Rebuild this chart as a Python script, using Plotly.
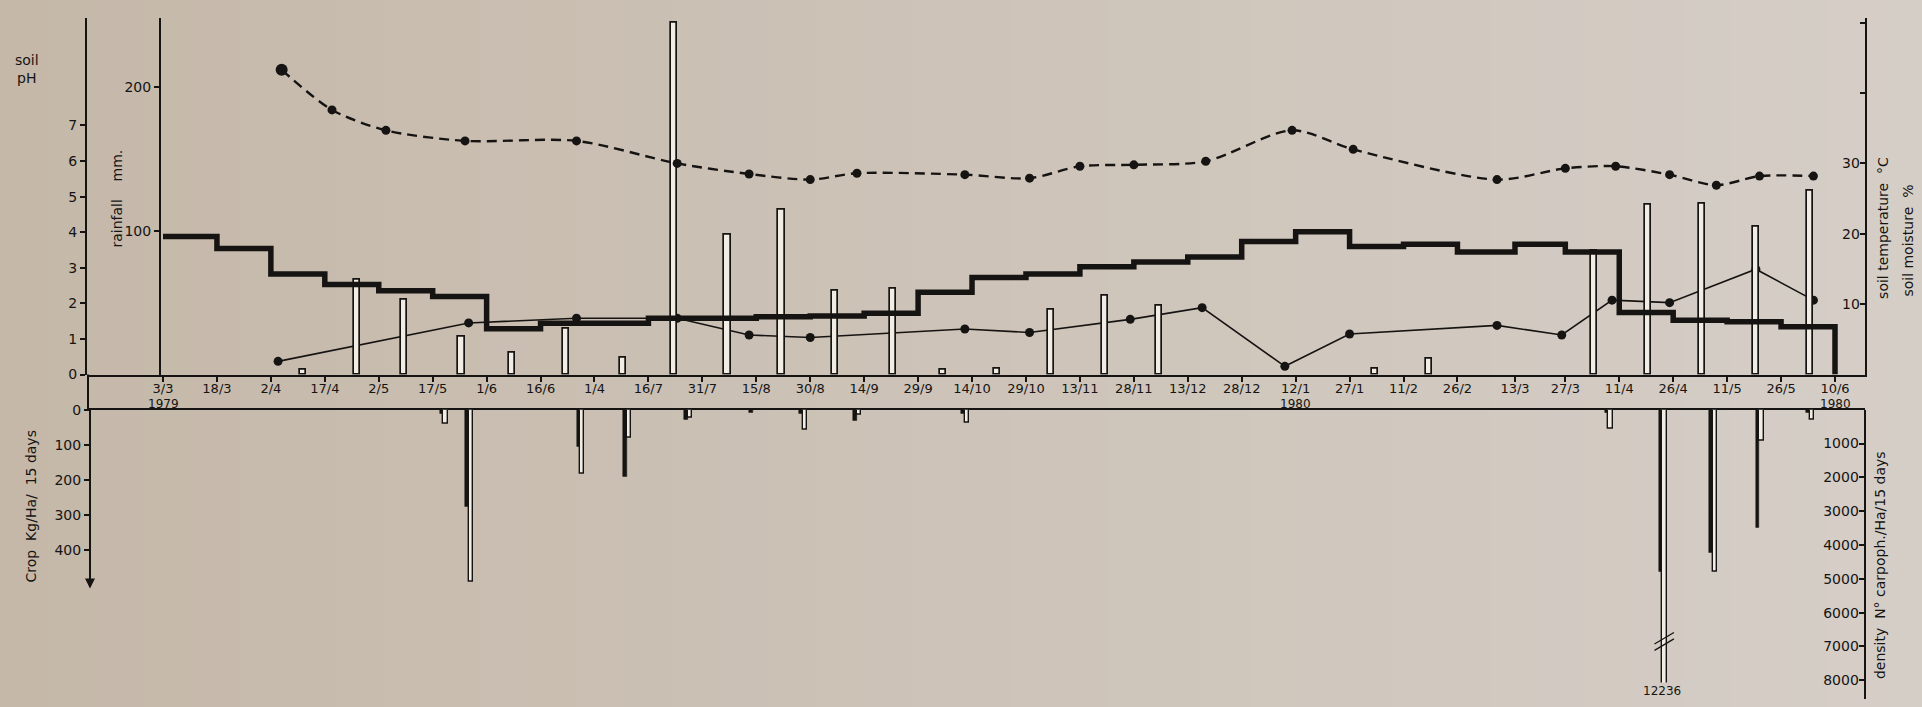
import pandas as pd
import plotly.graph_objects as go

# ---------------------------------------------------------------- data
# 15-day sampling dates on the time axis
tick_dates = ["1979-03-03", "1979-03-18", "1979-04-02", "1979-04-17", "1979-05-02",
              "1979-05-17", "1979-06-01", "1979-06-16", "1979-07-01", "1979-07-16",
              "1979-07-31", "1979-08-15", "1979-08-30", "1979-09-14", "1979-09-29",
              "1979-10-14", "1979-10-29", "1979-11-13", "1979-11-28", "1979-12-13",
              "1979-12-28", "1980-01-12", "1980-01-27", "1980-02-11", "1980-02-26",
              "1980-03-13", "1980-03-27", "1980-04-11", "1980-04-26", "1980-05-11",
              "1980-05-26", "1980-06-10"]
tick_labels = ["3/3", "18/3", "2/4", "17/4", "2/5", "17/5", "1/6", "16/6", "1/4", "16/7",
               "31/7", "15/8", "30/8", "14/9", "29/9", "14/10", "29/10", "13/11", "28/11",
               "13/12", "28/12", "12/1", "27/1", "11/2", "26/2", "13/3", "27/3", "11/4",
               "26/4", "11/5", "26/5", "10/6"]
year_dates = ["1979-03-03", "1980-01-12", "1980-06-10"]
year_labels = ["1979", "1980", "1980"]

# rainfall per 15-day period (mm)
rain_dates = ["1979-04-11", "1979-04-26", "1979-05-09", "1979-05-25", "1979-06-08",
              "1979-06-23", "1979-07-09", "1979-07-23", "1979-08-07", "1979-08-22",
              "1979-09-06", "1979-09-22", "1979-10-06", "1979-10-21", "1979-11-05",
              "1979-11-20", "1979-12-05", "1980-02-03", "1980-02-18", "1980-04-04",
              "1980-04-19", "1980-05-04", "1980-05-19", "1980-06-03"]
rain_mm = [3, 66, 52, 26, 15, 32, 12, 245, 97, 115, 58, 60, 3, 4, 45, 55, 48, 4, 11,
           86, 118, 119, 103, 128]

# mean soil temperature for each period (°C), one value per period start
temp_c = [19.6, 17.9, 14.3, 12.8, 11.9, 11.1, 6.5, 7.3, 7.3, 8.0, 8.0, 8.2, 8.3, 8.7,
          11.7, 13.8, 14.3, 15.3, 16.0, 16.7, 18.9, 20.3, 18.2, 18.5, 17.4, 18.5, 17.4,
          8.8, 7.7, 7.5, 6.8]

# soil moisture (%)
moist_dates = ["1979-04-05", "1979-04-19", "1979-05-04", "1979-05-26", "1979-06-26",
               "1979-07-24", "1979-08-13", "1979-08-30", "1979-09-12", "1979-10-12",
               "1979-10-30", "1979-11-13", "1979-11-28", "1979-12-18", "1980-01-11",
               "1980-01-28", "1980-03-08", "1980-03-27", "1980-04-10", "1980-04-25",
               "1980-05-08", "1980-05-20", "1980-06-04"]
moist_pct = [43.3, 37.6, 34.7, 33.2, 33.2, 30.0, 28.5, 27.7, 28.6, 28.4, 27.9, 29.6,
             29.8, 30.3, 34.7, 32.0, 27.7, 29.3, 29.6, 28.4, 26.9, 28.2, 28.2]

# thin solid series, left scale
ph_dates = ["1979-04-04", "1979-05-27", "1979-06-26", "1979-07-24", "1979-08-13",
            "1979-08-30", "1979-10-12", "1979-10-30", "1979-11-27", "1979-12-17",
            "1980-01-09", "1980-01-27", "1980-03-08", "1980-03-26", "1980-04-09",
            "1980-04-25", "1980-05-19", "1980-06-04"]
ph_vals = [0.37, 1.45, 1.58, 1.58, 1.11, 1.04, 1.28, 1.18, 1.55, 1.88, 0.23, 1.14,
           1.38, 1.11, 2.09, 2.02, 2.96, 2.09]

# fruiting: crop (kg/Ha/15 days) and carpophore density (N°/Ha/15 days)
fung_dates = ["1979-05-20", "1979-05-27", "1979-06-27", "1979-07-10", "1979-07-27",
              "1979-08-14", "1979-08-28", "1979-09-12", "1979-10-12", "1980-04-08",
              "1980-04-23", "1980-05-07", "1980-05-20", "1980-06-03"]
crop_kg = [12, 275, 105, 189, 28, 8, 12, 30, 10, 8, 461, 405, 336, 8]
density = [400, 5100, 1880, 840, 250, 0, 580, 150, 380, 560, 12236, 4800, 920, 300]

# ---------------------------------------------------------------- geometry
W, H = 1922, 707
INK = "#161412"
BAR_FILL = "#f1ece4"
FONT = "DejaVu Sans"
DAY_MS = 86400000
LEFT_RGB, RIGHT_RGB = (197, 184, 169), (213, 206, 199)


def fx(px):
    return px / W


def fy(px):
    return 1 - px / H


def paper_tone(t):
    r, g, b = (round(a + (c - a) * t) for a, c in zip(LEFT_RGB, RIGHT_RGB))
    return f"rgb({r},{g},{b})"


t_first = pd.Timestamp(tick_dates[0])
t_last = pd.Timestamp(tick_dates[-1])
X_LEFT, X_RIGHT = 88, 1865          # plot frame, px
PX_FIRST, PX_LAST = 163, 1835       # where the first/last sampling dates sit
px_per_day = (PX_LAST - PX_FIRST) / (t_last - t_first).days
x_range = [t_first - pd.Timedelta(days=(PX_FIRST - X_LEFT) / px_per_day),
           t_last + pd.Timedelta(days=(X_RIGHT - PX_LAST) / px_per_day)]

TOP_ZERO, TOP_END = 375, 10
BOT_ZERO, CROP_END, DENS_END = 411, 592, 707

# ---------------------------------------------------------------- traces
fig = go.Figure()

fig.add_trace(go.Bar(
    x=rain_dates, y=rain_mm, xaxis="x", yaxis="y2",
    width=1.7 * DAY_MS,
    marker=dict(color=BAR_FILL, line=dict(color=INK, width=1.7)),
    showlegend=False, hoverinfo="skip"))

fig.add_trace(go.Scatter(
    x=tick_dates, y=temp_c + [0], xaxis="x", yaxis="y3",
    mode="lines", line=dict(shape="hv", width=5.5, color=INK),
    showlegend=False, hoverinfo="skip"))

fig.add_trace(go.Scatter(
    x=moist_dates, y=moist_pct, xaxis="x", yaxis="y3",
    mode="lines",
    line=dict(shape="spline", smoothing=0.8, dash="10px,6px", width=2.4, color=INK),
    showlegend=False, hoverinfo="skip"))
fig.add_trace(go.Scatter(
    x=moist_dates, y=moist_pct, xaxis="x", yaxis="y3",
    mode="markers",
    marker=dict(size=[12] + [9] * (len(moist_pct) - 1), color=INK, opacity=1,
                line=dict(width=0)),
    showlegend=False, hoverinfo="skip"))

fig.add_trace(go.Scatter(
    x=ph_dates, y=ph_vals, xaxis="x", yaxis="y",
    mode="lines+markers",
    line=dict(width=1.6, color=INK),
    marker=dict(size=9, color=INK, opacity=1, line=dict(width=0)),
    showlegend=False, hoverinfo="skip"))

fig.add_trace(go.Bar(
    x=fung_dates, y=crop_kg, xaxis="x2", yaxis="y4",
    width=1.0 * DAY_MS, offset=-1.0 * DAY_MS,
    marker=dict(color=INK, line=dict(color=INK, width=0.5)),
    showlegend=False, hoverinfo="skip"))

fig.add_trace(go.Bar(
    x=fung_dates, y=density, xaxis="x3", yaxis="y5",
    width=1.2 * DAY_MS, offset=0.0,
    marker=dict(color=BAR_FILL, line=dict(color=INK, width=1.4)),
    showlegend=False, hoverinfo="skip"))

# ---------------------------------------------------------------- axes
axis_common = dict(showgrid=False, zeroline=False, showline=True, linecolor=INK,
                   linewidth=2, tickcolor=INK, tickwidth=1.5, ticklen=5,
                   tickfont=dict(family=FONT, size=14, color=INK))

fig.update_layout(
    width=W, height=H, autosize=False,
    margin=dict(l=0, r=0, t=0, b=0),
    paper_bgcolor=paper_tone(0.5), plot_bgcolor="rgba(0,0,0,0)",
    barmode="overlay", bargap=0,
    font=dict(family=FONT, color=INK),
    xaxis=dict(axis_common, domain=[fx(X_LEFT), fx(X_RIGHT)], type="date",
               range=x_range, anchor="y", ticks="outside", ticklen=5,
               ticklabelstandoff=-4,
               tickvals=tick_dates, ticktext=tick_labels, tickangle=0,
               tickfont=dict(family=FONT, size=13, color=INK)),
    yaxis=dict(axis_common, domain=[fy(TOP_ZERO), fy(TOP_END)],
               range=[0, (TOP_ZERO - TOP_END) / 36.4],
               anchor="free", position=fx(86), ticks="outside",
               tickvals=list(range(8))),
    yaxis2=dict(axis_common, overlaying="y", anchor="free", position=fx(160),
                range=[0, (TOP_ZERO - TOP_END) / 1.47], ticks="outside",
                tickvals=[100, 200]),
    yaxis3=dict(axis_common, overlaying="y", side="right", anchor="x",
                range=[0, (TOP_ZERO - TOP_END) / 7.2], ticks="inside",
                ticklabelposition="inside",
                tickvals=[10, 20, 30, 40, 50], ticktext=["10", "20", "30", "", ""]),
    xaxis2=dict(axis_common, domain=[fx(X_LEFT), fx(X_RIGHT)], type="date",
                matches="x", anchor="y4", side="top", ticks="",
                showticklabels=False),
    yaxis4=dict(axis_common, domain=[fy(CROP_END), fy(BOT_ZERO)],
                range=[(CROP_END - BOT_ZERO) / 0.36, 0],
                anchor="free", position=fx(90), ticks="outside",
                tickvals=[0, 100, 200, 300, 400]),
    xaxis3=dict(domain=[fx(X_LEFT), fx(X_RIGHT)], type="date", matches="x",
                anchor="y5", visible=False),
    yaxis5=dict(axis_common, domain=[fy(DENS_END), fy(BOT_ZERO)],
                range=[(DENS_END - BOT_ZERO) / 0.0346, 0],
                anchor="free", position=fx(X_RIGHT), side="right",
                ticks="inside", ticklabelposition="inside",
                tickvals=[1000, 2000, 3000, 4000, 5000, 6000, 7000, 8000]),
)

# ---------------------------------------------------------------- paper tone
shapes = []
N_STRIPS = 40
for i in range(N_STRIPS):
    shapes.append(dict(type="rect", xref="paper", yref="paper", layer="below",
                       x0=i / N_STRIPS, x1=(i + 1) / N_STRIPS + 0.001,
                       y0=-0.1, y1=1.1,
                       fillcolor=paper_tone(i / (N_STRIPS - 1)), line=dict(width=0)))

# left border of the date strip
shapes.append(dict(type="line", xref="paper", yref="paper",
                   x0=fx(88), x1=fx(88), y0=fy(TOP_ZERO), y1=fy(BOT_ZERO),
                   line=dict(color=INK, width=2)))

# break marks on the off-scale density bar
big = density.index(max(density))
big_day = pd.Timestamp(fung_dates[big])
dens_max = (DENS_END - BOT_ZERO) / 0.0346
for k in (0, 1):
    y_mid = dens_max * (0.79 + 0.022 * k)
    shapes.append(dict(type="line", xref="x3", yref="y5",
                       x0=big_day - pd.Timedelta(days=2.2),
                       x1=big_day + pd.Timedelta(days=3.2),
                       y0=y_mid + 170, y1=y_mid - 170,
                       line=dict(color=INK, width=1.3)))
fig.update_layout(shapes=shapes)

# ---------------------------------------------------------------- text
ann = []
txt = dict(family=FONT, size=14, color=INK)
centred = dict(xref="paper", yref="paper", xanchor="center", yanchor="middle",
               showarrow=False, font=txt)

ann.append(dict(centred, x=fx(27), y=fy(62), text="soil<br>pH", align="center"))
ann.append(dict(centred, x=fx(117), y=fy(195), text="rainfall    mm.", textangle=-90))
ann.append(dict(centred, x=fx(1883), y=fy(225), text="soil temperature  °C",
                textangle=-90))
ann.append(dict(centred, x=fx(1908), y=fy(238), text="soil moisture  %",
                textangle=-90))
ann.append(dict(centred, x=fx(31), y=fy(510), text="Crop  Kg/Ha/  15 days",
                textangle=-90))
ann.append(dict(centred, x=fx(1880), y=fy(570),
                text="density  N° carpoph./Ha/15 days", textangle=-90))

for d, lab in zip(year_dates, year_labels):
    ann.append(dict(xref="x", yref="paper", x=d, y=fy(405), text=lab,
                    xanchor="center", yanchor="middle", showarrow=False,
                    font=dict(family=FONT, size=12, color=INK)))

big_px = PX_FIRST + (big_day - t_first).days * px_per_day
ann.append(dict(xref="x3", yref="paper", x=fung_dates[big], y=fy(699),
                text=str(density[big]), xanchor="center", yanchor="middle",
                showarrow=False, bgcolor=paper_tone(big_px / W), borderpad=1,
                font=dict(family=FONT, size=12, color=INK)))

# arrow at the foot of the crop scale
ann.append(dict(xref="paper", yref="paper", x=fx(90), y=fy(CROP_END + 2),
                ax=0, ay=-12, text="", showarrow=True, arrowhead=2,
                arrowsize=1, arrowwidth=2, arrowcolor=INK))

fig.update_layout(annotations=ann)

fig.write_html("out.html")
